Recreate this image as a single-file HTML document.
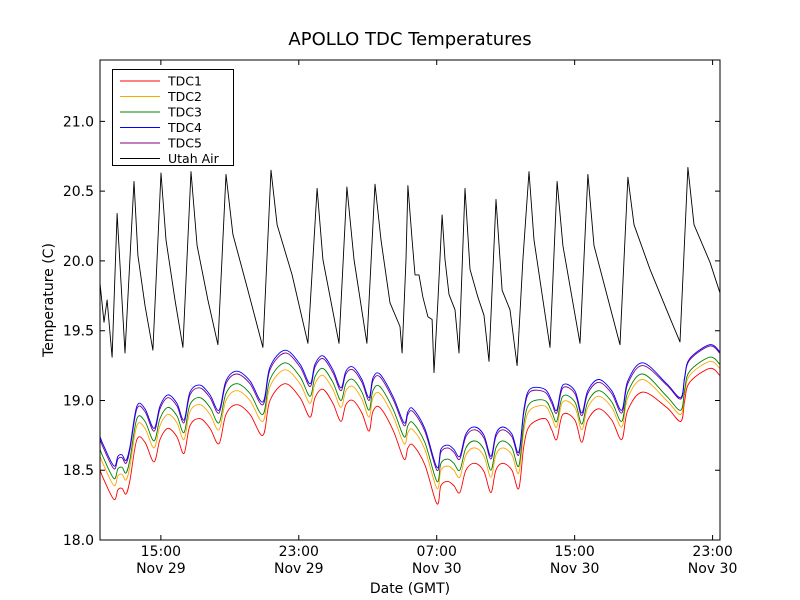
<!DOCTYPE html>
<html><head><meta charset="utf-8"><style>
body{margin:0;background:#fff;}
svg{display:block;font-family:"DejaVu Sans","Liberation Sans",sans-serif;}
</style></head><body>
<svg id="chart" width="800" height="600">
<rect x="0" y="0" width="800" height="600" fill="#fff"/>
<text x="410" y="45" text-anchor="middle" font-size="18">APOLLO TDC Temperatures</text>
<text transform="translate(53,300) rotate(-90)" text-anchor="middle" font-size="14">Temperature (C)</text>
<text x="410" y="593" text-anchor="middle" font-size="14">Date (GMT)</text>
<g id="series"></g>
<g id="axes"></g>
<rect x="100" y="60" width="620" height="480" fill="none" stroke="#000" stroke-width="1"/>
<g id="legend"></g>
</svg>
<script>
const xTickHours=[15,23,31,39,47];
const xTickTimes=["15:00","23:00","07:00","15:00","23:00"];
const xTickDates=["Nov 29","Nov 29","Nov 30","Nov 30","Nov 30"];
const yTicks=[18.0,18.5,19.0,19.5,20.0,20.5,21.0];
const seriesNames=["TDC1","TDC2","TDC3","TDC4","TDC5","Utah Air"];
const seriesColors=["#ff0000","#ffa500","#008000","#0000ff","#800080","#000000"];
const airTimes=[11.47,11.70,11.88,12.17,12.46,12.92,13.44,13.67,14.08,14.54,15.01,15.30,15.82,16.28,16.75,17.10,17.73,18.31,18.78,19.18,20.05,20.92,21.39,21.74,22.61,23.53,24.06,24.40,25.33,25.79,26.20,26.95,27.42,27.77,28.29,28.87,28.99,29.22,29.33,29.57,29.74,29.97,30.20,30.49,30.73,30.84,31.07,31.31,31.48,31.71,32.06,32.29,32.64,32.93,33.39,33.74,34.03,34.44,34.79,35.25,35.66,36.00,36.35,36.64,37.57,37.98,38.32,39.31,39.77,40.12,41.63,42.09,42.44,43.37,44.53,45.11,45.57,45.92,46.85,47.43];
const airValues=[19.84,19.56,19.72,19.31,20.34,19.34,20.57,20.04,19.68,19.36,20.63,20.15,19.72,19.38,20.64,20.11,19.72,19.40,20.62,20.19,19.79,19.38,20.65,20.26,19.90,19.41,20.52,20.01,19.41,20.53,20.01,19.41,20.55,20.15,19.70,19.53,19.34,20.01,20.54,20.15,19.90,19.90,19.74,19.60,19.58,19.20,19.71,20.33,20.01,19.76,19.65,19.34,20.52,19.94,19.74,19.61,19.28,20.44,19.79,19.65,19.25,20.01,20.64,20.15,19.38,20.57,20.11,19.41,20.62,20.11,19.40,20.60,20.26,19.94,19.59,19.42,20.67,20.26,19.99,19.77];
const tdcTimes=[11.47,11.70,12.28,12.51,12.75,12.98,13.21,13.61,14.08,14.60,14.95,15.41,15.93,16.34,16.69,17.27,17.85,18.37,18.78,19.41,20.17,20.92,21.33,22.20,23.07,23.65,23.94,24.40,24.98,25.44,25.73,26.14,26.66,27.07,27.30,27.70,28.46,29.10,29.33,29.62,30.31,31.01,31.24,31.64,31.99,32.34,32.69,33.21,33.74,34.14,34.43,34.83,35.36,35.76,36.06,36.40,37.27,37.67,37.96,38.31,39.01,39.41,39.76,40.40,41.15,41.73,42.08,42.95,44.34,45.15,45.38,45.67,46.83,47.41];
const tdc1=[18.50,18.43,18.29,18.36,18.37,18.33,18.43,18.72,18.70,18.56,18.72,18.80,18.74,18.62,18.82,18.87,18.80,18.69,18.90,18.97,18.90,18.75,19.00,19.12,19.02,18.88,19.02,19.08,18.98,18.85,18.97,19.00,18.91,18.78,18.92,18.95,18.79,18.58,18.66,18.68,18.54,18.26,18.39,18.42,18.39,18.34,18.50,18.55,18.49,18.34,18.50,18.55,18.50,18.37,18.68,18.82,18.87,18.79,18.72,18.90,18.86,18.70,18.86,18.94,18.86,18.72,18.93,19.06,18.95,18.85,19.00,19.13,19.23,19.18];
const tdc2=[18.60,18.53,18.39,18.46,18.47,18.43,18.53,18.82,18.80,18.66,18.82,18.90,18.84,18.72,18.92,18.97,18.90,18.79,19.00,19.07,19.00,18.85,19.10,19.22,19.12,18.98,19.12,19.18,19.08,18.95,19.07,19.10,19.01,18.88,19.02,19.05,18.89,18.69,18.77,18.79,18.65,18.37,18.50,18.53,18.50,18.45,18.61,18.66,18.60,18.45,18.61,18.66,18.61,18.48,18.79,18.93,18.96,18.88,18.81,18.99,18.95,18.79,18.95,19.03,18.95,18.81,19.02,19.15,19.00,18.90,19.05,19.18,19.28,19.23];
const tdc3=[18.65,18.58,18.44,18.51,18.52,18.48,18.58,18.87,18.85,18.71,18.87,18.95,18.89,18.77,18.97,19.02,18.95,18.84,19.05,19.12,19.05,18.90,19.15,19.27,19.17,19.03,19.17,19.23,19.13,19.00,19.12,19.15,19.06,18.93,19.07,19.10,18.94,18.74,18.82,18.84,18.70,18.42,18.55,18.58,18.55,18.50,18.66,18.71,18.65,18.50,18.66,18.71,18.66,18.53,18.84,18.98,19.00,18.92,18.85,19.03,18.99,18.83,18.99,19.07,18.99,18.85,19.06,19.19,19.03,18.93,19.08,19.21,19.31,19.26];
const tdc4=[18.74,18.67,18.53,18.60,18.61,18.57,18.67,18.96,18.94,18.80,18.96,19.04,18.98,18.86,19.06,19.11,19.04,18.93,19.14,19.21,19.14,18.99,19.24,19.36,19.26,19.12,19.26,19.32,19.22,19.09,19.21,19.24,19.15,19.02,19.16,19.19,19.03,18.84,18.92,18.94,18.80,18.52,18.65,18.68,18.65,18.60,18.76,18.81,18.75,18.60,18.76,18.81,18.76,18.63,18.94,19.08,19.08,19.00,18.93,19.11,19.07,18.91,19.07,19.15,19.07,18.93,19.14,19.27,19.12,19.02,19.17,19.30,19.40,19.35];
const tdc5=[18.72,18.65,18.51,18.58,18.59,18.55,18.65,18.94,18.92,18.78,18.94,19.02,18.96,18.84,19.04,19.09,19.02,18.91,19.12,19.19,19.12,18.97,19.22,19.34,19.24,19.10,19.24,19.30,19.20,19.07,19.19,19.22,19.13,19.00,19.14,19.17,19.01,18.82,18.90,18.92,18.78,18.50,18.63,18.66,18.63,18.58,18.74,18.79,18.73,18.58,18.74,18.79,18.74,18.61,18.92,19.06,19.06,18.98,18.91,19.09,19.05,18.89,19.05,19.13,19.05,18.91,19.12,19.25,19.11,19.01,19.16,19.29,19.39,19.34];

const NS="http://www.w3.org/2000/svg";
const X0=100,X1=720,Y0=540,Y1=60;
const xMin=11.47,xMax=47.43,yMin=18.0,yMax=21.44;
function xs(t){return X0+(t-xMin)/(xMax-xMin)*(X1-X0);}
function ys(v){return Y0-(v-yMin)/(yMax-yMin)*(Y0-Y1);}
function mk(tag,attrs){const e=document.createElementNS(NS,tag);for(const k in attrs)e.setAttribute(k,attrs[k]);return e;}
const axes=document.getElementById('axes');
yTicks.forEach(v=>{
  const y=ys(v);
  const l=mk('path',{d:`M100,${y}h5M720,${y}h-5`,stroke:'#000','stroke-width':1});
  
  
  axes.appendChild(l);
  const t=mk('text',{x:94,y:y+5,'text-anchor':'end','font-size':14});
  
  
  t.textContent=v.toFixed(1);axes.appendChild(t);
});
xTickHours.forEach((h,i)=>{
  const x=xs(h);
  const l=mk('path',{d:`M${x},540v-5M${x},60v5`,stroke:'#000','stroke-width':1});
  
  
  axes.appendChild(l);
  const t=mk('text',{x:x,y:556,'text-anchor':'middle','font-size':14});
  
  
  t.textContent=xTickTimes[i];axes.appendChild(t);
  const d=mk('text',{x:x,y:573,'text-anchor':'middle','font-size':14});
  
  
  d.textContent=xTickDates[i];axes.appendChild(d);
});
const sg=document.getElementById('series');
function pathD(ts,vs,smooth){
  const P=ts.map((t,i)=>[xs(t),ys(vs[i])]);
  if(!smooth)return P.map((p,i)=>(i?'L':'M')+p[0].toFixed(1)+','+p[1].toFixed(1)).join('');
  let d='M'+P[0][0].toFixed(1)+','+P[0][1].toFixed(1);
  for(let i=0;i<P.length-1;i++){
    const p0=P[Math.max(0,i-1)],p1=P[i],p2=P[i+1],p3=P[Math.min(P.length-1,i+2)];
    const c1=[p1[0]+(p2[0]-p0[0])/6,p1[1]+(p2[1]-p0[1])/6];
    const c2=[p2[0]-(p3[0]-p1[0])/6,p2[1]-(p3[1]-p1[1])/6];
    d+='C'+c1.map(n=>n.toFixed(1)).join(',')+' '+c2.map(n=>n.toFixed(1)).join(',')+' '+p2[0].toFixed(1)+','+p2[1].toFixed(1);
  }
  return d;
}
function line(ts,vs,color,name,smooth){
  const p=mk('path',{d:pathD(ts,vs,smooth),fill:'none',stroke:color,'stroke-width':0.9,'stroke-linejoin':'round'});
  
  
  sg.appendChild(p);
}
line(tdcTimes,tdc1,seriesColors[0],'tdc1-line',true);
line(tdcTimes,tdc2,seriesColors[1],'tdc2-line',true);
line(tdcTimes,tdc3,seriesColors[2],'tdc3-line',true);
line(tdcTimes,tdc5,seriesColors[4],'tdc5-line',true);
line(tdcTimes,tdc4,seriesColors[3],'tdc4-line',true);
line(airTimes,airValues,seriesColors[5],'utah-air-line',false);
const lg=document.getElementById('legend');
const box=mk('rect',{x:112.5,y:69.5,width:121,height:96,fill:'#fff',stroke:'#000','stroke-width':1});


lg.appendChild(box);
seriesNames.forEach((n,i)=>{
  const y=81+i*15.5;
  const l=mk('line',{x1:120,x2:160,y1:y,y2:y,stroke:seriesColors[i],'stroke-width':1});
  
  
  lg.appendChild(l);
  const t=mk('text',{x:168,y:y+4.5,'font-size':12.5});
  
  
  t.textContent=n;lg.appendChild(t);
});
</script>
</body></html>
